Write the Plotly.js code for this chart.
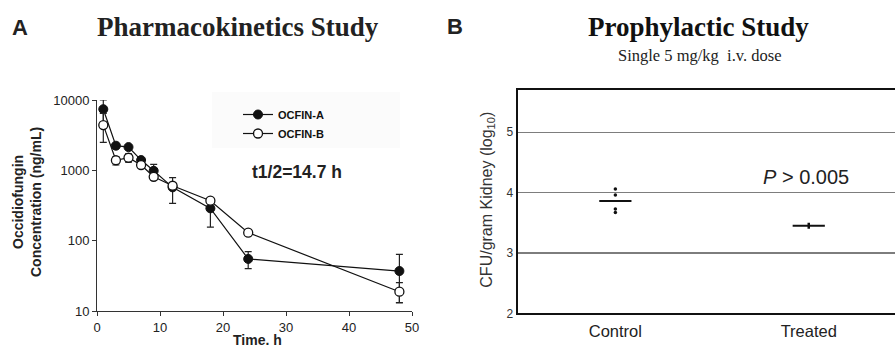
<!DOCTYPE html>
<html><head><meta charset="utf-8">
<script src="https://cdn.plot.ly/plotly-3.0.1.min.js"></script>
<style>html,body{margin:0;padding:0;background:#fff}#chart{width:895px;height:348px}</style>
</head><body><div id="chart"></div>
<script>
// Panel A: pharmacokinetics
const timeH = [1, 3, 5, 7, 9, 12, 18, 24, 48];
const ocfinA = [7400, 2240, 2140, 1400, 985, 573, 288, 55, 37];
const ocfinAErrPlus = [2600, 150, 120, 90, 230, 215, 80, 15, 27];
const ocfinAErrMinus = [2600, 150, 120, 90, 120, 235, 132, 15, 24];
const ocfinB = [4400, 1390, 1510, 1190, 810, 604, 370, 130, 18.8];
const ocfinBErrPlus = [2060, 180, 200, 80, 80, 60, 30, 12, 6.6];
const ocfinBErrMinus = [1900, 200, 200, 80, 80, 60, 30, 12, 5.6];
const xTicksA = [0, 10, 20, 30, 40, 50];
const yTicksA = [10, 100, 1000, 10000];

// Panel B: prophylactic study
const groups = ['Control', 'Treated'];
const controlPoints = [4.06, 3.96, 3.73, 3.67];
const groupMeans = [3.86, 3.45];
const treatedErr = [0.05];
const yTicksB = [2, 3, 4, 5];

const W = 895, H = 348;
const px = v => v / W;
const py = v => 1 - v / H;

const sans = 'Liberation Sans, Arial, sans-serif';
const serif = 'Liberation Serif, Times New Roman, serif';

const traces = [
  {
    x: timeH, y: ocfinA, name: 'OCFIN-A', type: 'scatter', mode: 'lines+markers',
    xaxis: 'x', yaxis: 'y',
    line: {color: '#111', width: 1.2},
    marker: {symbol: 'circle', size: 9, color: '#111', line: {color: '#111', width: 1}},
    error_y: {type: 'data', symmetric: false, array: ocfinAErrPlus, arrayminus: ocfinAErrMinus,
              color: '#222', thickness: 1.2, width: 3.5}
  },
  {
    x: timeH, y: ocfinB, name: 'OCFIN-B', type: 'scatter', mode: 'lines+markers',
    xaxis: 'x', yaxis: 'y',
    line: {color: '#111', width: 1.2},
    marker: {symbol: 'circle', size: 9, color: '#fff', line: {color: '#111', width: 1.3}},
    error_y: {type: 'data', symmetric: false, array: ocfinBErrPlus, arrayminus: ocfinBErrMinus,
              color: '#222', thickness: 1.2, width: 3.5}
  },
  {
    x: controlPoints.map(() => groups[0]), y: controlPoints, type: 'scatter', mode: 'markers',
    xaxis: 'x2', yaxis: 'y2', showlegend: false,
    marker: {symbol: 'circle', size: 3.5, color: '#111'}
  },
  {
    x: [groups[0]], y: [groupMeans[0]], type: 'scatter', mode: 'markers',
    xaxis: 'x2', yaxis: 'y2', showlegend: false,
    marker: {symbol: 'line-ew', size: 23, line: {color: '#111', width: 2}}
  },
  {
    x: [groups[1]], y: [groupMeans[1]], type: 'scatter', mode: 'markers',
    xaxis: 'x2', yaxis: 'y2', showlegend: false,
    marker: {symbol: 'line-ew', size: 23, line: {color: '#111', width: 2}},
    error_y: {type: 'data', array: treatedErr, color: '#111', thickness: 2.5, width: 0}
  }
];

const ann = (text, x, y, font, extra) => Object.assign({
  text, x: px(x), y: py(y), xref: 'paper', yref: 'paper', showarrow: false,
  xanchor: 'center', yanchor: 'middle', font
}, extra || {});

const layout = {
  width: W, height: H,
  margin: {l: 0, r: 0, t: 0, b: 0},
  paper_bgcolor: '#fff', plot_bgcolor: 'rgba(0,0,0,0)',
  showlegend: true,
  font: {family: sans, color: '#222'},
  xaxis: {
    domain: [px(97), px(412)], range: [0, 50], anchor: 'y',
    tickvals: xTicksA, ticktext: xTicksA.map(String),
    ticks: 'outside', ticklen: 4, tickcolor: '#333', tickwidth: 1,
    showline: true, linecolor: '#333', linewidth: 1, showgrid: false, zeroline: false,
    tickfont: {family: sans, size: 13, color: '#222'}
  },
  yaxis: {
    domain: [1 - 311 / H, 1 - 100 / H], type: 'log', range: [1, 4], anchor: 'x',
    tickvals: yTicksA, ticktext: yTicksA.map(String),
    ticks: 'outside', ticklen: 4, tickcolor: '#333', tickwidth: 1,
    showline: true, linecolor: '#333', linewidth: 1, showgrid: false, zeroline: false,
    tickfont: {family: sans, size: 13, color: '#222'}
  },
  xaxis2: {
    domain: [px(517.7), 1], type: 'category', range: [-0.505, 1.446], anchor: 'y2',
    categoryarray: groups, categoryorder: 'array',
    ticks: '', showline: true, mirror: true, linecolor: '#111', linewidth: 2,
    showgrid: false, zeroline: false, ticklabelstandoff: 2,
    tickfont: {family: sans, size: 16.5, color: '#222'}
  },
  yaxis2: {
    domain: [1 - 313.3 / H, 1 - 90 / H], range: [2, 5.7], anchor: 'x2',
    tickvals: yTicksB, ticktext: yTicksB.map(String),
    ticks: '', showline: true, linecolor: '#111', linewidth: 2,
    showgrid: true, gridcolor: '#7d7d7d', gridwidth: 1.5, zeroline: false,
    tickfont: {family: sans, size: 12, color: '#333'}
  },
  legend: {
    x: px(238), y: py(100), xanchor: 'left', yanchor: 'top',
    bgcolor: 'rgba(0,0,0,0)', borderwidth: 0,
    font: {family: sans, size: 11, color: '#111', weight: 'bold'},
    tracegroupgap: 0
  },
  shapes: [
    {type: 'rect', xref: 'paper', yref: 'paper', x0: px(212), x1: px(400), y0: py(148), y1: py(92),
     fillcolor: '#fbfbfb', line: {width: 0}, layer: 'below'}
  ],
  annotations: [
    ann('A', 19.5, 27.5, {family: sans, size: 22, color: '#222', weight: 'bold'}),
    ann('<b>Pharmacokinetics Study</b>', 238, 27, {family: serif, size: 27, color: '#222'}),
    ann('B', 455, 27, {family: sans, size: 22, color: '#222', weight: 'bold'}),
    ann('<b>Prophylactic Study</b>', 698, 27, {family: serif, size: 27, color: '#111'}),
    ann('Single 5 mg/kg&nbsp;&nbsp;i.v. dose', 699, 55, {family: serif, size: 16.5, color: '#222'}),
    ann('<b>t1/2=14.7 h</b>', 296.7, 171.7, {family: sans, size: 17.5, color: '#222'}),
    ann('<i>P</i> > 0.005', 806, 176.7, {family: sans, size: 20, color: '#222'}),
    ann('<b>Occidiofungin<br>Concentration (ng/mL)</b>', 27, 202, {family: sans, size: 14, color: '#222'}, {textangle: -90}),
    ann('<b>Time. h</b>', 257, 340, {family: sans, size: 14, color: '#222'}),
    ann('CFU/gram Kidney (log<sub>10</sub>)', 486.7, 200, {family: sans, size: 16, color: '#333'}, {textangle: -90})
  ]
};

Plotly.newPlot('chart', traces, layout, {displayModeBar: false, staticPlot: true});
</script>
</body></html>
